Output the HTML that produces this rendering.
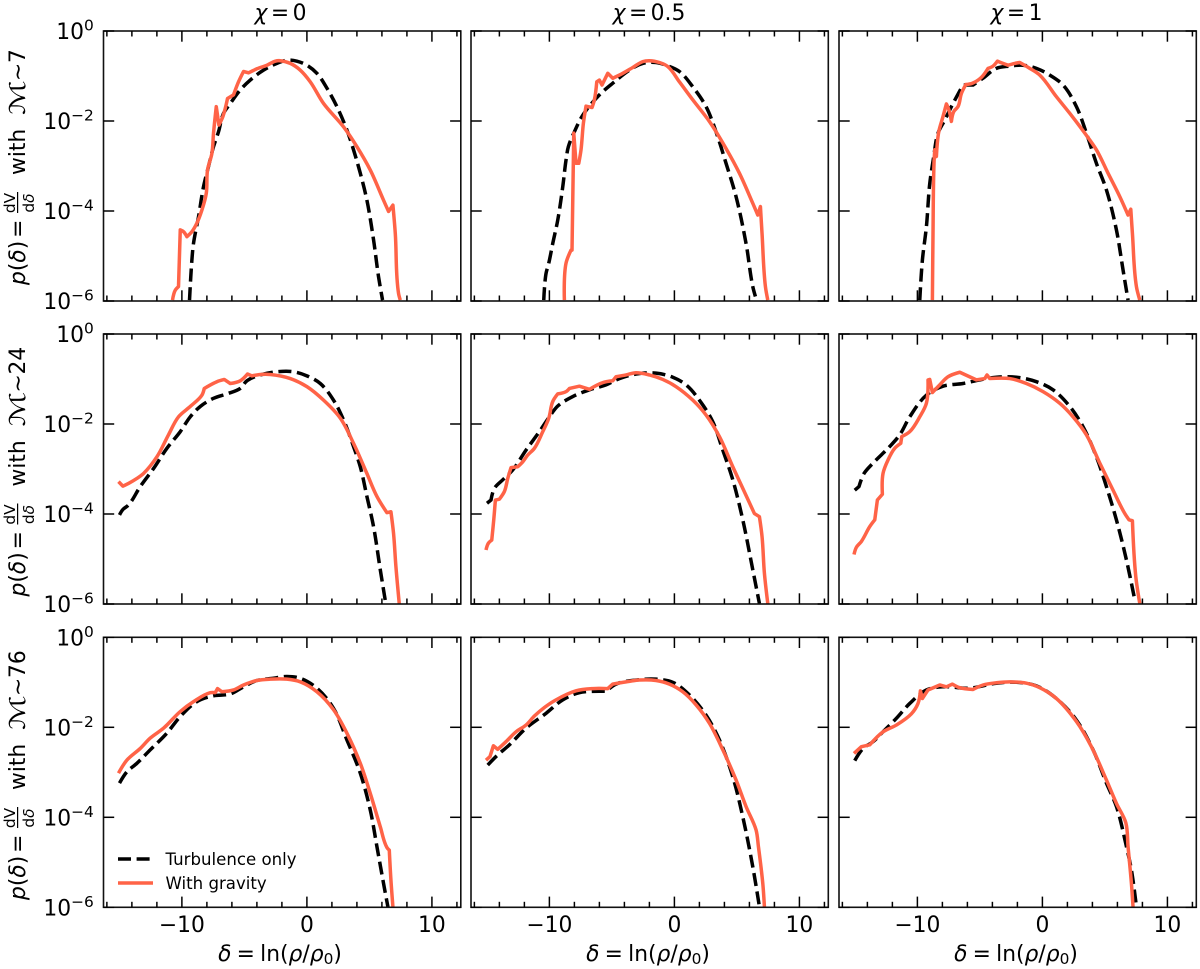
<!DOCTYPE html>
<html lang="en">
<head>
<meta charset="utf-8">
<title>Density PDFs with and without gravity</title>
<style>
html,body{margin:0;padding:0;background:#fff;}
svg{display:block;}
text{font-family:"DejaVu Sans","Liberation Sans",sans-serif;fill:#000;}
.lab{font-size:21.8px;}
.it{font-style:italic;}
.frac{font-size:15.4px;}
.leg{font-size:16.6px;}
.title{word-spacing:-3.5px;}
.xt{word-spacing:-1.7px;}
.pd{word-spacing:-4px;}
</style>
</head>
<body>
<svg id="figure" xmlns="http://www.w3.org/2000/svg" width="1200" height="969" viewBox="0 0 1200 969">
  <rect width="1200" height="969" fill="#fff"/>
  <g id="panels"></g>

  <text class="lab title" x="280.5" y="20" text-anchor="middle"><tspan class="it">χ</tspan> = 0</text>
  <text class="lab title" x="649" y="20" text-anchor="middle"><tspan class="it">χ</tspan> = 0.5</text>
  <text class="lab title" x="1016.5" y="20" text-anchor="middle"><tspan class="it">χ</tspan> = 1</text>

  <g transform="translate(25,285) rotate(-90)">
    <text class="lab pd" x="0" y="0"><tspan class="it">p</tspan>(<tspan class="it">δ</tspan>) =</text>
    <text class="frac" x="82" y="-10" text-anchor="middle">dV</text>
    <rect x="72" y="-8" width="21" height="1.2" fill="#000"/>
    <text class="frac" x="82" y="9" text-anchor="middle">d<tspan class="it">δ</tspan></text>
    <text class="lab" x="110" y="0">with</text>
    <text class="lab" transform="translate(170,0) scale(1.5,1)" x="0" y="0">ℳ</text>
    <text class="lab" x="204" y="0">∼</text>
    <text class="lab" x="222" y="0">7</text>
  </g>
  <g transform="translate(25,596.5) rotate(-90)">
    <text class="lab pd" x="0" y="0"><tspan class="it">p</tspan>(<tspan class="it">δ</tspan>) =</text>
    <text class="frac" x="82" y="-10" text-anchor="middle">dV</text>
    <rect x="72" y="-8" width="21" height="1.2" fill="#000"/>
    <text class="frac" x="82" y="9" text-anchor="middle">d<tspan class="it">δ</tspan></text>
    <text class="lab" x="110" y="0">with</text>
    <text class="lab" transform="translate(170,0) scale(1.5,1)" x="0" y="0">ℳ</text>
    <text class="lab" x="204" y="0">∼</text>
    <text class="lab" x="222" y="0">24</text>
  </g>
  <g transform="translate(25,900) rotate(-90)">
    <text class="lab pd" x="0" y="0"><tspan class="it">p</tspan>(<tspan class="it">δ</tspan>) =</text>
    <text class="frac" x="82" y="-10" text-anchor="middle">dV</text>
    <rect x="72" y="-8" width="21" height="1.2" fill="#000"/>
    <text class="frac" x="82" y="9" text-anchor="middle">d<tspan class="it">δ</tspan></text>
    <text class="lab" x="110" y="0">with</text>
    <text class="lab" transform="translate(170,0) scale(1.5,1)" x="0" y="0">ℳ</text>
    <text class="lab" x="204" y="0">∼</text>
    <text class="lab" x="222" y="0">76</text>
  </g>

  <text class="lab xt" x="280" y="961" text-anchor="middle"><tspan class="it">δ</tspan> = ln(<tspan class="it">ρ</tspan>/<tspan class="it">ρ</tspan><tspan font-size="15.4" dy="3">0</tspan><tspan dy="-3">)</tspan></text>
  <text class="lab xt" x="648" y="961" text-anchor="middle"><tspan class="it">δ</tspan> = ln(<tspan class="it">ρ</tspan>/<tspan class="it">ρ</tspan><tspan font-size="15.4" dy="3">0</tspan><tspan dy="-3">)</tspan></text>
  <text class="lab xt" x="1016" y="961" text-anchor="middle"><tspan class="it">δ</tspan> = ln(<tspan class="it">ρ</tspan>/<tspan class="it">ρ</tspan><tspan font-size="15.4" dy="3">0</tspan><tspan dy="-3">)</tspan></text>

  <g>
    <line x1="118" y1="859" x2="153" y2="859" stroke="#000" stroke-width="3.5" stroke-dasharray="13 5.6"/>
    <text class="leg" x="165.5" y="865">Turbulence only</text>
    <line x1="118" y1="883" x2="153" y2="883" stroke="#ff6347" stroke-width="3.5"/>
    <text class="leg" x="165.5" y="889">With gravity</text>
  </g>
</svg>

<script>
// Axis tick values
const xMajorTicks = [-10, 0, 10];
const xMinorTicks = [-16, -14, -12, -8, -6, -4, -2, 2, 4, 6, 8, 12];
const yMajorExponents = [0, -2, -4, -6];

// Row 1 (Mach ~ 7), chi = 0
const turbDelta_r1c1 = [-9.39,-9.2,-9.07,-8.67,-8.27,-7.87,-7.47,-7.07,-6.67,-6.13,-5.33,-4.53,-3.47,-2.4,-1.6,-0.8,0,0.8,1.6,2.4,3.2,3.73,4.27,4.8,5.33,5.73,6.05];
const turbLogP_r1c1 = [-5.98,-5.09,-4.72,-4.13,-3.46,-3.01,-2.57,-2.24,-1.83,-1.61,-1.31,-1.09,-0.87,-0.72,-0.65,-0.67,-0.76,-0.94,-1.27,-1.68,-2.2,-2.64,-3.16,-3.76,-4.64,-5.46,-5.98];
const gravDelta_r1c1 = [-10.75,-10.53,-10.27,-10.13,-9.87,-9.6,-9.2,-8.8,-8.4,-8.05,-7.95,-7.6,-7.47,-7.25,-7.04,-6.72,-6.35,-5.87,-5.47,-5.07,-4.67,-4.0,-3.2,-2.53,-2.13,-1.33,-0.53,0.27,1.33,2.93,4.0,5.07,6.13,6.53,6.88,7.07,7.33,7.47];
const gravLogP_r1c1 = [-5.98,-5.76,-5.68,-4.42,-4.46,-4.57,-4.46,-4.27,-3.98,-3.61,-3.09,-2.72,-2.27,-1.68,-2.09,-1.9,-1.5,-1.42,-1.13,-0.9,-0.93,-0.84,-0.76,-0.67,-0.66,-0.72,-0.87,-1.13,-1.61,-2.13,-2.57,-3.09,-3.76,-4.01,-3.87,-4.5,-5.83,-5.98];

// Row 1, chi = 0.5
const turbDelta_r1c2 = [-10.45,-10.27,-10.05,-9.73,-9.33,-8.93,-8.67,-8.48,-8.0,-7.33,-6.0,-4.93,-3.6,-2.53,-1.47,-0.67,0.4,1.47,2.53,3.33,4.13,4.93,5.73,6.27,6.48];
const turbLogP_r1c2 = [-5.98,-5.39,-5.16,-4.72,-4.2,-3.46,-2.87,-2.57,-2.24,-1.87,-1.42,-1.16,-0.87,-0.72,-0.7,-0.76,-0.9,-1.24,-1.68,-2.24,-2.94,-3.68,-4.72,-5.68,-5.9];
const gravDelta_r1c2 = [-8.8,-8.67,-8.27,-8.19,-8.05,-7.87,-7.65,-7.47,-7.28,-7.07,-6.59,-6.4,-6.21,-6.0,-5.79,-5.33,-4.93,-4.13,-3.33,-2.53,-2.0,-1.2,-0.53,0.4,1.47,2.8,4.13,5.2,6.27,6.67,6.88,7.01,7.28,7.47];
const gravLogP_r1c2 = [-5.98,-5.16,-4.87,-4.87,-2.27,-2.94,-2.94,-2.64,-2.05,-1.67,-1.7,-1.53,-1.13,-1.09,-1.2,-0.94,-1.05,-0.94,-0.81,-0.68,-0.66,-0.7,-0.79,-1.13,-1.53,-2.01,-2.61,-3.16,-3.83,-4.09,-3.9,-4.5,-5.68,-5.98];

// Row 1, chi = 1
const turbDelta_r1c3 = [-9.81,-9.6,-9.28,-9.01,-8.69,-8.35,-7.81,-7.15,-6.35,-5.55,-4.75,-3.68,-2.61,-1.55,-0.48,0.59,1.65,2.72,3.52,4.32,5.12,5.92,6.45,6.85];
const turbLogP_r1c3 = [-5.98,-5.09,-4.35,-3.39,-2.79,-2.27,-1.98,-1.61,-1.2,-1.2,-1.05,-0.83,-0.78,-0.76,-0.83,-0.98,-1.2,-1.68,-2.27,-2.94,-3.53,-4.42,-5.31,-5.98];
const gravDelta_r1c3 = [-8.8,-8.75,-8.67,-8.61,-8.48,-8.29,-7.95,-7.68,-7.47,-7.28,-7.09,-6.75,-6.48,-6.13,-5.6,-4.88,-4.35,-3.95,-3.6,-3.15,-2.75,-2.21,-1.81,-1.01,-0.21,1.12,2.19,3.39,4.32,5.25,6.19,6.85,7.07,7.2,7.52,7.79];
const gravLogP_r1c3 = [-5.98,-4.5,-2.94,-2.64,-2.79,-2.24,-1.9,-1.62,-1.76,-2.01,-1.79,-1.68,-1.39,-1.19,-1.16,-1.03,-0.83,-0.78,-0.67,-0.72,-0.76,-0.72,-0.7,-0.83,-0.98,-1.46,-1.83,-2.27,-2.64,-3.16,-3.68,-4.09,-3.96,-4.5,-5.68,-5.98];

// Row 2 (Mach ~ 24), chi = 0
const turbDelta_r2c1 = [-14.99,-14.72,-14.27,-13.33,-12.27,-11.2,-10.13,-9.33,-8.53,-7.47,-6.4,-5.33,-4.8,-3.73,-2.4,-1.07,0,1.07,2.13,2.93,3.73,4.27,4.8,5.33,5.87,6.35];
const turbLogP_r2c1 = [-4.02,-3.9,-3.8,-3.39,-2.99,-2.54,-2.17,-1.84,-1.61,-1.43,-1.33,-1.21,-1.04,-0.91,-0.84,-0.84,-0.93,-1.1,-1.47,-1.91,-2.5,-2.95,-3.61,-4.28,-5.24,-6.06];
const gravDelta_r2c1 = [-15.07,-14.72,-14.27,-13.6,-13.07,-12.0,-11.07,-10.27,-9.33,-8.4,-8.21,-7.2,-6.61,-6.13,-5.33,-4.75,-4.4,-3.73,-2.93,-1.33,0,1.33,2.67,3.73,4.8,5.6,6.4,6.72,6.93,7.12,7.41];
const gravLogP_r2c1 = [-3.28,-3.38,-3.32,-3.21,-3.1,-2.73,-2.24,-1.84,-1.61,-1.36,-1.21,-1.06,-1.01,-1.1,-1.04,-0.89,-0.93,-0.9,-0.9,-0.99,-1.17,-1.47,-1.87,-2.43,-3.1,-3.61,-3.97,-3.95,-4.43,-5.17,-6.06];

// Row 2, chi = 0.5
const turbDelta_r2c2 = [-14.99,-14.67,-14.4,-13.73,-12.93,-11.87,-10.8,-10.0,-9.33,-8.13,-6.8,-5.47,-4.4,-3.07,-1.47,-0.13,0.93,2.0,3.07,3.87,4.67,5.47,6.27,6.8];
const turbLogP_r2c2 = [-3.76,-3.69,-3.43,-3.24,-3.02,-2.58,-2.17,-1.84,-1.6,-1.39,-1.24,-1.13,-0.99,-0.89,-0.87,-0.96,-1.13,-1.47,-1.95,-2.58,-3.24,-4.13,-5.24,-5.99];
const gravDelta_r2c2 = [-15.07,-14.88,-14.61,-14.45,-14.32,-14.0,-13.6,-13.33,-13.07,-12.53,-12.13,-11.73,-11.2,-10.53,-10.05,-9.73,-9.33,-8.67,-8.4,-7.6,-6.8,-5.73,-4.93,-4.67,-3.87,-3.07,-2.0,-0.93,0.13,1.47,2.53,3.6,4.67,5.47,6.4,6.8,7.01,7.2,7.47];
const gravLogP_r2c2 = [-4.8,-4.65,-4.58,-4.13,-3.69,-3.67,-3.5,-3.21,-2.97,-2.95,-2.84,-2.69,-2.54,-2.17,-1.87,-1.5,-1.33,-1.28,-1.21,-1.16,-1.23,-1.08,-1.04,-0.95,-0.91,-0.86,-0.91,-1.01,-1.17,-1.47,-1.8,-2.28,-2.95,-3.43,-3.99,-4.06,-4.5,-5.32,-5.99];

// Row 2, chi = 1
const turbDelta_r2c3 = [-15.01,-14.67,-14.27,-13.55,-12.21,-11.41,-10.61,-9.28,-7.95,-6.35,-5.01,-3.68,-2.08,-0.48,0.85,2.19,3.25,4.32,5.12,5.92,6.72,7.39];
const turbLogP_r2c3 = [-3.47,-3.39,-3.1,-2.87,-2.5,-2.24,-1.84,-1.36,-1.16,-1.1,-1.02,-0.96,-0.96,-1.06,-1.24,-1.61,-2.06,-2.73,-3.39,-4.13,-5.02,-5.91];
const gravDelta_r2c3 = [-15.07,-14.88,-14.48,-13.81,-13.41,-13.2,-12.8,-12.75,-12.35,-11.81,-11.33,-11.25,-10.61,-9.81,-9.28,-9.15,-9.01,-8.8,-8.21,-7.55,-6.61,-5.28,-4.61,-4.43,-4.21,-2.61,-1.28,0.05,1.39,2.45,3.52,4.59,5.65,6.59,6.93,7.2,7.47,7.79];
const gravLogP_r2c3 = [-4.9,-4.74,-4.61,-4.28,-4.13,-3.69,-3.56,-3.1,-2.8,-2.54,-2.43,-2.28,-2.17,-1.84,-1.54,-1.02,-1.01,-1.3,-1.13,-0.95,-0.85,-1.02,-0.99,-0.91,-0.99,-0.99,-1.1,-1.28,-1.54,-1.84,-2.24,-2.87,-3.47,-3.99,-4.13,-4.15,-5.39,-5.99];

// Row 3 (Mach ~ 76), chi = 0
const turbDelta_r3c1 = [-14.99,-14.4,-13.6,-12.53,-11.2,-10.13,-8.8,-7.47,-6.13,-5.07,-4.0,-2.67,-1.6,-0.53,0.8,2.13,3.2,4.27,5.07,5.6,6.13,6.48];
const turbLogP_r3c1 = [-3.24,-2.99,-2.8,-2.5,-2.13,-1.76,-1.43,-1.3,-1.26,-1.1,-0.96,-0.91,-0.87,-0.91,-1.13,-1.58,-2.28,-3.02,-3.84,-4.65,-5.47,-5.99];
const gravDelta_r3c1 = [-15.07,-14.4,-13.33,-12.53,-11.47,-10.13,-9.07,-7.73,-7.33,-7.15,-6.8,-5.87,-5.07,-4.0,-2.93,-1.6,-0.53,0.8,2.13,3.2,4.27,5.07,5.87,6.4,6.59,6.72,6.88];
const gravLogP_r3c1 = [-3.02,-2.73,-2.47,-2.24,-2.02,-1.65,-1.43,-1.23,-1.23,-1.14,-1.21,-1.17,-1.06,-0.96,-0.93,-0.93,-0.99,-1.21,-1.61,-2.13,-2.8,-3.47,-4.21,-4.67,-4.73,-5.39,-5.99];

// Row 3, chi = 0.5
const turbDelta_r3c2 = [-14.93,-14.27,-13.2,-11.87,-10.27,-8.93,-7.6,-5.47,-4.67,-3.07,-1.47,-0.13,1.2,2.53,3.6,4.67,5.47,6.27,6.8];
const turbLogP_r3c2 = [-2.84,-2.65,-2.39,-2.02,-1.69,-1.39,-1.23,-1.2,-1.04,-0.95,-0.93,-1.0,-1.28,-1.73,-2.28,-3.1,-3.99,-5.1,-5.99];
const gravDelta_r3c2 = [-15.07,-14.75,-14.48,-14.13,-13.47,-12.67,-11.87,-11.2,-10.4,-9.47,-7.87,-6.53,-5.33,-4.93,-3.87,-2.8,-1.47,-0.4,0.67,1.73,2.8,3.87,4.93,5.73,6.53,6.72,7.07,7.2];
const gravLogP_r3c2 = [-2.73,-2.65,-2.41,-2.49,-2.32,-2.1,-1.95,-1.75,-1.56,-1.39,-1.19,-1.14,-1.14,-1.04,-0.99,-0.95,-0.96,-1.04,-1.21,-1.5,-1.91,-2.5,-3.17,-3.76,-4.28,-4.65,-5.47,-5.99];

// Row 3, chi = 1
const turbDelta_r3c3 = [-15.01,-14.35,-13.55,-12.75,-11.68,-10.61,-9.28,-7.95,-5.81,-3.68,-2.08,-0.48,1.12,2.72,4.05,5.12,5.92,6.72,7.12,7.52];
const turbLogP_r3c3 = [-2.74,-2.47,-2.32,-2.1,-1.8,-1.47,-1.17,-1.1,-1.13,-1.02,-1.0,-1.08,-1.36,-1.84,-2.5,-3.24,-3.76,-4.65,-5.17,-5.99];
const gravDelta_r3c3 = [-15.07,-14.48,-13.81,-12.75,-11.68,-10.48,-9.95,-9.76,-9.6,-9.15,-8.21,-7.68,-7.2,-6.61,-5.55,-4.75,-3.68,-2.61,-1.28,-0.21,1.12,2.72,3.92,5.12,5.92,6.67,6.85,7.12,7.25];
const gravLogP_r3c3 = [-2.58,-2.43,-2.39,-2.1,-1.95,-1.7,-1.47,-1.19,-1.36,-1.17,-1.06,-1.1,-1.04,-1.12,-1.16,-1.06,-1.01,-0.99,-1.02,-1.12,-1.36,-1.87,-2.43,-3.17,-3.69,-4.12,-4.65,-5.47,-5.99];

const panelSeries = [
  [[turbDelta_r1c1,turbLogP_r1c1,gravDelta_r1c1,gravLogP_r1c1],[turbDelta_r1c2,turbLogP_r1c2,gravDelta_r1c2,gravLogP_r1c2],[turbDelta_r1c3,turbLogP_r1c3,gravDelta_r1c3,gravLogP_r1c3]],
  [[turbDelta_r2c1,turbLogP_r2c1,gravDelta_r2c1,gravLogP_r2c1],[turbDelta_r2c2,turbLogP_r2c2,gravDelta_r2c2,gravLogP_r2c2],[turbDelta_r2c3,turbLogP_r2c3,gravDelta_r2c3,gravLogP_r2c3]],
  [[turbDelta_r3c1,turbLogP_r3c1,gravDelta_r3c1,gravLogP_r3c1],[turbDelta_r3c2,turbLogP_r3c2,gravDelta_r3c2,gravLogP_r3c2],[turbDelta_r3c3,turbLogP_r3c3,gravDelta_r3c3,gravLogP_r3c3]]
];

const SVGNS = 'http://www.w3.org/2000/svg';
const root = document.getElementById('panels');
const columnLeft = [103.5, 471, 839];
const rowTop = [31, 334, 637.3];
const panelW = 357.3;
const panelH = 270;
const xMin = -16.27;
const xMax = 12.31;
const yMax = 0;
const yMin = -6;

function make(tag, attrs, parent) {
  const e = document.createElementNS(SVGNS, tag);
  for (const k in attrs) e.setAttribute(k, attrs[k]);
  parent.appendChild(e);
  return e;
}
function xScale(col, v) { return columnLeft[col] + (v - xMin) / (xMax - xMin) * panelW; }
function yScale(row, v) { return rowTop[row] + (yMax - v) / (yMax - yMin) * panelH; }

// Smooth curve through the data points, keeping spikes and cut-offs as real corners.
function pathFor(row, col, xs, ys) {
  const n = Math.min(xs.length, ys.length);
  const pts = [];
  for (let i = 0; i < n; i++) pts.push([xScale(col, xs[i]), yScale(row, ys[i])]);
  const tan = pts.map(function (p, i) {
    if (i === 0 || i === n - 1) return [0, 0];
    const a = pts[i - 1], b = pts[i + 1];
    const ux = p[0] - a[0], uy = p[1] - a[1], vx = b[0] - p[0], vy = b[1] - p[1];
    const lu = Math.hypot(ux, uy) || 1, lv = Math.hypot(vx, vy) || 1;
    if ((ux * vx + uy * vy) / (lu * lv) < 0.88) return [0, 0];
    const tx = ux / lu + vx / lv, ty = uy / lu + vy / lv;
    const lt = Math.hypot(tx, ty) || 1;
    return [tx / lt, ty / lt];
  });
  let d = 'M' + pts[0][0].toFixed(2) + ' ' + pts[0][1].toFixed(2);
  for (let i = 1; i < n; i++) {
    const a = pts[i - 1], b = pts[i];
    const h = Math.hypot(b[0] - a[0], b[1] - a[1]) / 3;
    d += 'C' + (a[0] + tan[i - 1][0] * h).toFixed(2) + ' ' + (a[1] + tan[i - 1][1] * h).toFixed(2) + ' ' +
         (b[0] - tan[i][0] * h).toFixed(2) + ' ' + (b[1] - tan[i][1] * h).toFixed(2) + ' ' +
         b[0].toFixed(2) + ' ' + b[1].toFixed(2);
  }
  return d;
}

panelSeries.forEach(function (rowSeries, r) {
  rowSeries.forEach(function (s, c) {
    const L = columnLeft[c], T = rowTop[r], R = L + panelW, B = T + panelH;
    const tag = 'r' + (r + 1) + 'c' + (c + 1);
    const g = make('g', {}, root);
    
    

    const clip = make('clipPath', { id: 'clip-' + tag }, g);
    make('rect', { x: L, y: T, width: panelW, height: panelH }, clip);

    const turb = make('path', {
      d: pathFor(r, c, s[0], s[1]), fill: 'none', stroke: '#000', 'stroke-width': 3.5,
      'stroke-dasharray': '13 5.6', 'stroke-linejoin': 'round', 'clip-path': 'url(#clip-' + tag + ')'
    }, g);
    
    

    const grav = make('path', {
      d: pathFor(r, c, s[2], s[3]), fill: 'none', stroke: '#ff6347', 'stroke-width': 3.5,
      'stroke-linejoin': 'round', 'clip-path': 'url(#clip-' + tag + ')'
    }, g);
    
    

    const frame = make('rect', { x: L, y: T, width: panelW, height: panelH, fill: 'none', stroke: '#111', 'stroke-width': 1.6 }, g);
    
    

    const ticks = make('g', { stroke: '#000', 'stroke-width': 1.5 }, g);
    
    
    function xTick(v, len) {
      const x = xScale(c, v);
      make('line', { x1: x, x2: x, y1: T, y2: T + len }, ticks);
      make('line', { x1: x, x2: x, y1: B, y2: B - len }, ticks);
    }
    xMajorTicks.forEach(function (v) { xTick(v, 10.7); });
    xMinorTicks.forEach(function (v) { xTick(v, 5.5); });
    yMajorExponents.forEach(function (v) {
      const y = yScale(r, v);
      make('line', { x1: L, x2: L + 10.7, y1: y, y2: y }, ticks);
      make('line', { x1: R, x2: R - 10.7, y1: y, y2: y }, ticks);
    });

    if (r === 2) {
      xMajorTicks.forEach(function (v) {
        const t = make('text', { x: xScale(c, v), y: 932, 'text-anchor': 'middle', class: 'lab' }, g);
        t.textContent = v < 0 ? '\u2212' + Math.abs(v) : String(v);
        
        
      });
    }
    if (c === 0) {
      yMajorExponents.forEach(function (v) {
        const y = yScale(r, v);
        const t = make('text', { x: 93.8, y: y + 8, 'text-anchor': 'end', class: 'lab' }, g);
        
        
        const base = make('tspan', {}, t);
        base.textContent = '10';
        const sup = make('tspan', { dy: -8.5, 'font-size': 15.4 }, t);
        sup.textContent = v < 0 ? '\u2212' + Math.abs(v) : String(v);
      });
    }
  });
});
</script>
</body>
</html>
